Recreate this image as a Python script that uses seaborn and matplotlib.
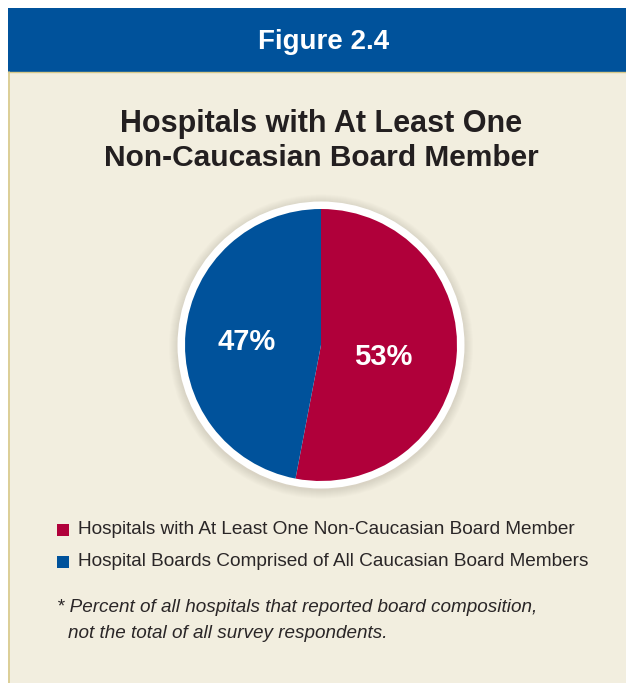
import matplotlib
matplotlib.use("Agg")
import matplotlib.pyplot as plt
import seaborn as sns
from matplotlib.patches import Rectangle, Circle

# ---- data ----
categories = ["Hospitals with At Least One Non-Caucasian Board Member",
              "Hospital Boards Comprised of All Caucasian Board Members"]
values = [53, 47]
header = "Figure 2.4"
title = "Hospitals with At Least One\nNon-Caucasian Board Member"
footnote_lines = ["* Percent of all hospitals that reported board composition,",
                  "not the total of all survey respondents."]

sns.set_theme(style="white")
plt.rcParams['font.family'] = ['Liberation Sans', 'DejaVu Sans']

RED = "#B0003A"
BLUE = "#00529B"
BEIGE = "#F2EEDF"
colors = sns.color_palette([RED, BLUE])

W, H = 626, 683
fig = plt.figure(figsize=(W / 100, H / 100), dpi=100)
fig.patch.set_facecolor("white")

# background axes in pixel coordinates
bg = fig.add_axes([0, 0, 1, 1])
bg.set_xlim(0, W)
bg.set_ylim(H, 0)
bg.axis("off")
bg.add_patch(Rectangle((8, 72), W - 8, H - 72, facecolor=BEIGE, edgecolor="none"))
bg.add_patch(Rectangle((8, 8), W - 8, 63.5, facecolor=BLUE, edgecolor="none"))
bg.plot([8.7, 8.7], [72, H], color="#D8C98A", lw=1.2)
bg.plot([8, W], [72.0, 72.0], color="#D8C98A", lw=1.0)
bg.text(324, 42, header, ha="center", va="center", color="white",
        fontsize=20, fontweight="bold")
t1, t2 = title.split("\n")
bg.text(321, 124, t1, ha="center", va="center", color="#231F20",
        fontsize=22, fontweight="bold")
bg.text(321, 158, t2, ha="center", va="center", color="#231F20",
        fontsize=21.5, fontweight="bold")

# soft shadow around pie
cx, cy, R = 321, 345, 136
for k in range(9, 0, -1):
    bg.add_patch(Circle((cx, cy + 1.5), R + 7 + k, facecolor="#8a806a",
                        edgecolor="none", alpha=0.025))
bg.add_patch(Circle((cx, cy), R + 7.5, facecolor="white", edgecolor="none"))

# pie axes
pad = 150
ax = fig.add_axes([(cx - pad) / W, (H - cy - pad) / H, 2 * pad / W, 2 * pad / H])
wedges, texts, autotexts = ax.pie(values, colors=colors, startangle=90, counterclock=False,
                                  radius=R / pad, autopct=lambda p: f"{round(p)}%",
                                  pctdistance=0.5,
                                  textprops=dict(color="white", fontsize=21, fontweight="bold"),
                                  wedgeprops=dict(linewidth=0))
ax.set_xlim(-1, 1)
ax.set_ylim(-1, 1)
ax.set_aspect("equal")
ax.axis("off")
autotexts[0].set_position((62 / pad, -12 / pad))
autotexts[1].set_position((-74 / pad, 3 / pad))
for t in autotexts:
    t.set_ha("center"); t.set_va("center")

# legend
for i, (lab, c) in enumerate(zip(categories, colors)):
    y = 530 + 32 * i
    bg.add_patch(Rectangle((57, y - 6), 12, 12, facecolor=c, edgecolor="none"))
    bg.text(78, y, lab, ha="left", va="center", color="#2a2627", fontsize=13.7)

bg.text(57, 608, footnote_lines[0], ha="left", va="center", color="#2a2627",
        fontsize=13.6, style="italic")
bg.text(68, 633, footnote_lines[1], ha="left", va="center", color="#2a2627",
        fontsize=13.6, style="italic")

fig.savefig("out.png", dpi=100, facecolor=fig.get_facecolor())
